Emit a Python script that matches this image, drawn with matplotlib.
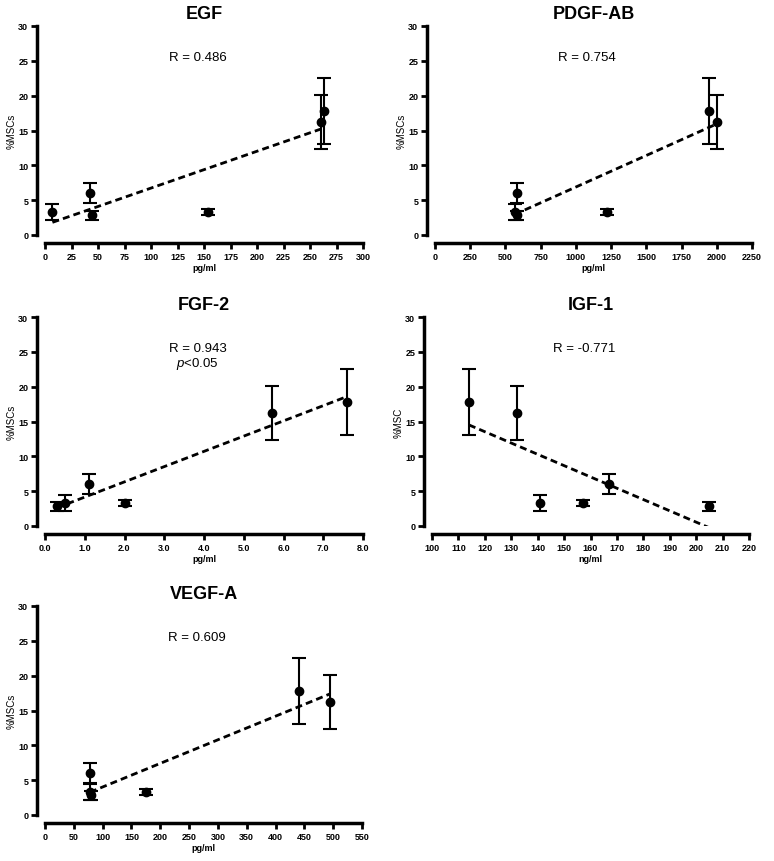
import matplotlib
matplotlib.use('Agg')
import matplotlib.pyplot as plt
import numpy as np

plt.rcParams['font.family'] = ['Liberation Sans', 'DejaVu Sans']
plt.rcParams['mathtext.fontset'] = 'custom'
plt.rcParams['mathtext.it'] = 'Liberation Sans:italic'
plt.rcParams['mathtext.rm'] = 'Liberation Sans'

# %MSCs per sample (mean and error)
msc = [3.3, 6.0, 2.8, 3.3, 16.2, 17.8]
msc_err = [1.2, 1.4, 0.6, 0.5, 3.9, 4.8]

# factor concentrations for the same samples
egf = [7, 42, 44, 154, 260, 263]
pdgf = [565, 582, 580, 1222, 2000, 1942]
fgf2 = [0.5, 1.1, 0.3, 2.0, 5.7, 7.6]
igf1 = [141, 167, 205, 157, 132, 114]
vegf = [78, 78, 80, 175, 495, 440]

titles = ["EGF", "PDGF-AB", "FGF-2", "IGF-1", "VEGF-A"]
r_labels = ["R = 0.486", "R = 0.754", "R = 0.943\n$\\mathit{p}$<0.05", "R = -0.771", "R = 0.609"]
ylabels = ["%MSCs", "%MSCs", "%MSCs", "%MSC", "%MSCs"]
xlabels = ["pg/ml", "pg/ml", "pg/ml", "ng/ml", "pg/ml"]
xlims = [(0, 300), (0, 2250), (0, 8), (100, 220), (0, 550)]
xsteps = [25, 250, 1, 10, 50]
xfmt = ["%d", "%d", "%.1f", "%d", "%d"]
xvals = [egf, pdgf, fgf2, igf1, vegf]

W, H = 774, 862
fig = plt.figure(figsize=(W / 100, H / 100), dpi=100)

# axes boxes in pixels: left, top, right, bottom
boxes = [(45, 27, 363, 236), (435, 27, 752, 236),
         (45, 318, 363, 527), (432, 318, 749, 527),
         (45, 607, 362, 816)]

for i in range(5):
    l, t, r, b = boxes[i]
    ax = fig.add_axes([l / W, 1 - b / H, (r - l) / W, (b - t) / H])
    x = np.array(xvals[i], dtype=float)
    y = np.array(msc)

    ax.errorbar(x, y, yerr=msc_err, fmt='o', color='black', ms=6,
                elinewidth=1.5, capsize=5, capthick=1.5, zorder=3)

    k, c = np.polyfit(x, y, 1)
    xx = np.array([x.min(), x.max()])
    ax.plot(xx, k * xx + c, color='black', ls=(0, (2.5, 1.5)), lw=2)

    ax.set_xlim(*xlims[i])
    ax.set_ylim(0, 30)
    ax.set_xticks(np.arange(xlims[i][0], xlims[i][1] + xsteps[i] / 2, xsteps[i]))
    ax.set_yticks(np.arange(0, 31, 5))
    ax.xaxis.set_major_formatter(matplotlib.ticker.FormatStrFormatter(xfmt[i]))

    for s in ['top', 'right']:
        ax.spines[s].set_visible(False)
    for s in ['left', 'bottom']:
        ax.spines[s].set_linewidth(2.5)
        ax.spines[s].set_position(('outward', 6))
    ax.tick_params(width=2, length=4, labelsize=6.5, pad=2)
    for lab in ax.get_xticklabels() + ax.get_yticklabels():
        lab.set_fontweight('bold')

    ax.set_title(titles[i], fontsize=13, fontweight='bold', pad=6)
    ax.set_ylabel(ylabels[i], fontsize=7, labelpad=1)
    ax.set_xlabel(xlabels[i], fontsize=6.5, fontweight='bold', labelpad=2)
    ax.text(0.48, 0.88, r_labels[i], transform=ax.transAxes, ha='center',
            va='top', fontsize=9.5, linespacing=1.1)

fig.savefig("out.png", dpi=100)
